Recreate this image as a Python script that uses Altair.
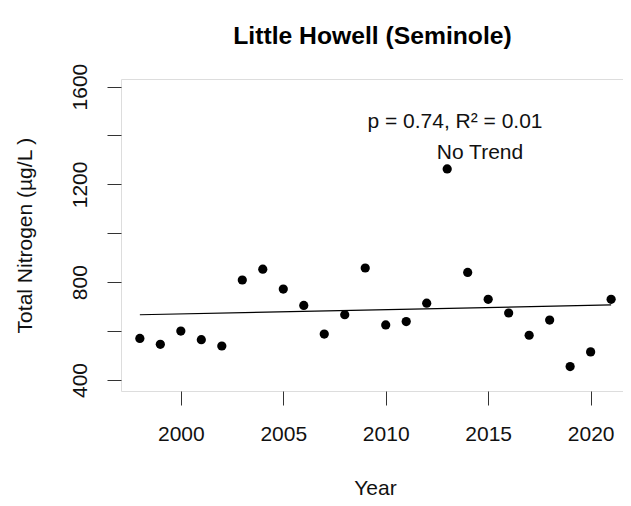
import altair as alt
import pandas as pd

years = list(range(1998, 2022))
nitrogen = [570, 546, 600, 565, 539, 809, 853, 772, 705, 588, 667, 858,
            625, 639, 714, 1263, 840, 730, 674, 583, 645, 455, 515, 730]
y_ticks = [400, 600, 800, 1000, 1200, 1400, 1600]
x_ticks = [2000, 2005, 2010, 2015, 2020]
title_text = "Little Howell (Seminole)"
stat_line = "p = 0.74, R² = 0.01"
trend_line = "No Trend"

df = pd.DataFrame({"Year": years, "TN": nitrogen})

FONT = "Liberation Sans"
FS = 21

x_scale = alt.Scale(domain=[1997.08, 2021.58], nice=False, zero=False)
y_scale = alt.Scale(domain=[355, 1631], nice=False, zero=False)

x_axis = alt.Axis(values=x_ticks, format="d", grid=False, domain=False,
                  tickSize=14, tickColor="#333", labelFontSize=FS, labelFont=FONT,
                  labelColor="#111", labelPadding=35, labelBaseline="alphabetic",
                  title="Year", titleFontSize=FS, titleFont=FONT,
                  titleFontWeight="normal", titleColor="#111",
                  titleBaseline="alphabetic", titleY=103, titleX=254,
                  titleAlign="center")
y_axis = alt.Axis(values=y_ticks, format="d", grid=False, domain=False,
                  labelExpr="datum.value % 400 == 0 ? datum.label : ''",
                  tickSize=14, tickColor="#333", labelFontSize=FS, labelFont=FONT,
                  labelColor="#111", labelAngle=270, labelAlign="center",
                  labelBaseline="alphabetic", labelPadding=21,
                  title="Total Nitrogen (µg/L )", titleFontSize=FS, titleFont=FONT,
                  titleFontWeight="normal", titleColor="#111",
                  titleAngle=270, titleAlign="center", titleBaseline="alphabetic",
                  titleX=-90, titleY=156)

base = alt.Chart(df)

points = base.mark_circle(size=85, color="black", opacity=1).encode(
    x=alt.X("Year:Q", scale=x_scale, axis=x_axis),
    y=alt.Y("TN:Q", scale=y_scale, axis=y_axis),
)

trend = base.transform_regression("Year", "TN", extent=[1998, 2021]).mark_line(
    color="black", strokeWidth=1.2
).encode(
    x=alt.X("Year:Q", scale=x_scale),
    y=alt.Y("TN:Q", scale=y_scale),
)

ann1 = alt.Chart(pd.DataFrame({"t": [stat_line]})).mark_text(
    font=FONT, fontSize=FS, color="#111", align="center", baseline="alphabetic"
).encode(text="t:N", x=alt.value(334), y=alt.value(48.5))

ann2 = alt.Chart(pd.DataFrame({"t": [trend_line]})).mark_text(
    font=FONT, fontSize=FS, color="#111", align="center", baseline="alphabetic"
).encode(text="t:N", x=alt.value(359), y=alt.value(80.3))

ttl = alt.Chart(pd.DataFrame({"t": [title_text]})).mark_text(
    font=FONT, fontSize=24.7, fontWeight="bold", color="#000", align="center",
    baseline="alphabetic"
).encode(text="t:N", x=alt.value(251.5), y=alt.value(-35))

chart = alt.layer(trend, points, ann1, ann2, ttl).properties(
    width=502, height=312,
    padding={"left": 113, "top": 71, "right": 0, "bottom": 107},
    autosize=alt.AutoSizeParams(type="none"),
).configure_view(stroke="#222", strokeWidth=1).configure(background="white")

chart.save("out.html", embed_options={"renderer": "svg", "actions": False})
